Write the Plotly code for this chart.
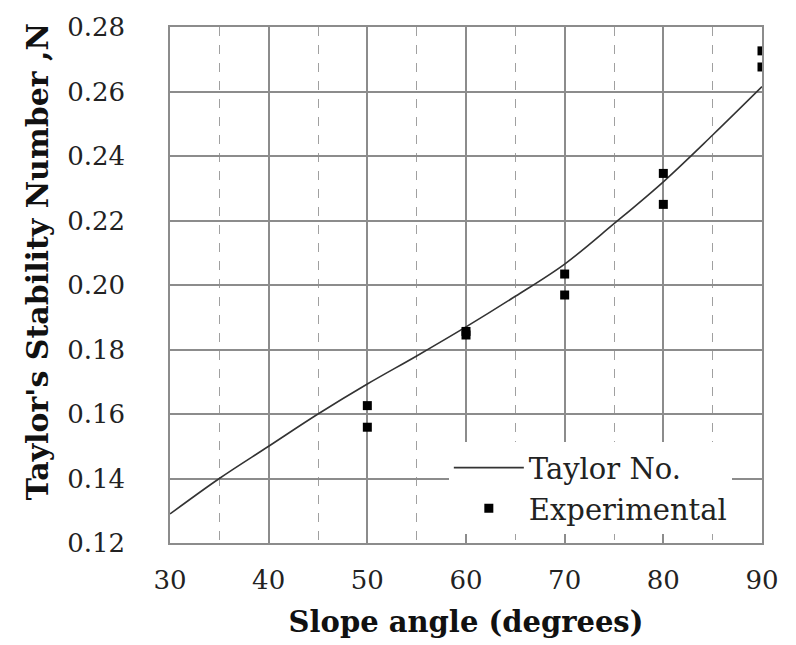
import plotly.graph_objects as go

# Taylor curve
curve_angle = [30, 35, 40, 45, 50, 55, 60, 65, 70, 75, 80, 85, 90]
curve_N = [0.129, 0.140, 0.150, 0.160, 0.1693, 0.178, 0.187, 0.1965, 0.2065, 0.219, 0.232, 0.2465, 0.2615]

# Experimental points
exp_angle = [50, 50, 60, 60, 70, 70, 80, 80, 90, 90]
exp_N = [0.1626, 0.1559, 0.1856, 0.1845, 0.2034, 0.1969, 0.2346, 0.2250, 0.2726, 0.2676]

x_ticks = [30, 40, 50, 60, 70, 80, 90]
y_ticks = [0.12, 0.14, 0.16, 0.18, 0.20, 0.22, 0.24, 0.26, 0.28]

FONT = "DejaVu Serif"
GRID = "#8c8c8c"
TXT = "#222222"

fig = go.Figure()
fig.add_trace(go.Scatter(x=curve_angle, y=curve_N, mode="lines", name="Taylor No.",
                         line=dict(color="#333333", width=1.6, shape="spline", smoothing=1.0)))
fig.add_trace(go.Scatter(x=exp_angle, y=exp_N, mode="markers", name="Experimental",
                         marker=dict(symbol="square", size=9, color="black")))

fig.update_layout(
    width=796, height=645,
    margin=dict(l=170, r=34, t=24, b=99),
    paper_bgcolor="white", plot_bgcolor="white",
    font=dict(family=FONT, size=26, color=TXT),
    showlegend=True,
    legend=dict(x=0.471, y=0.017, xanchor="left", yanchor="bottom",
                bgcolor="white", borderwidth=0,
                font=dict(family=FONT, size=29, color=TXT),
                tracegroupgap=0, itemwidth=70),
    annotations=[dict(
        text="<b>Taylor's Stability Number ,N</b>", textangle=-90,
        xref="paper", yref="paper", x=-0.2247, y=0.546,
        xanchor="center", yanchor="middle", showarrow=False,
        font=dict(family=FONT, size=30, color="#111111"),
    )],
)
fig.update_xaxes(
    range=[30, 90], tickvals=x_ticks, ticktext=[str(v) for v in x_ticks],
    showgrid=True, gridcolor=GRID, gridwidth=1.5,
    showline=True, linecolor=GRID, linewidth=1.5, mirror=True,
    ticks="outside", ticklen=13, tickcolor="rgba(0,0,0,0)",
    tickfont=dict(family=FONT, size=26, color=TXT),
    minor=dict(dtick=5, tick0=30, showgrid=True, gridcolor="#a0a0a0", griddash="dash", gridwidth=1),
    zeroline=False,
    title=dict(text="<b>Slope angle (degrees)</b>", font=dict(family=FONT, size=29, color="#111111"), standoff=18),
)
fig.update_yaxes(
    range=[0.12, 0.28], tickvals=y_ticks, ticktext=[f"{v:.2f}" for v in y_ticks],
    showgrid=True, gridcolor=GRID, gridwidth=1.5,
    showline=True, linecolor=GRID, linewidth=1.5, mirror=True,
    ticks="outside", ticklen=38, tickcolor="rgba(0,0,0,0)",
    tickfont=dict(family=FONT, size=26, color=TXT),
    zeroline=False,
)

fig.write_html("out.html")
